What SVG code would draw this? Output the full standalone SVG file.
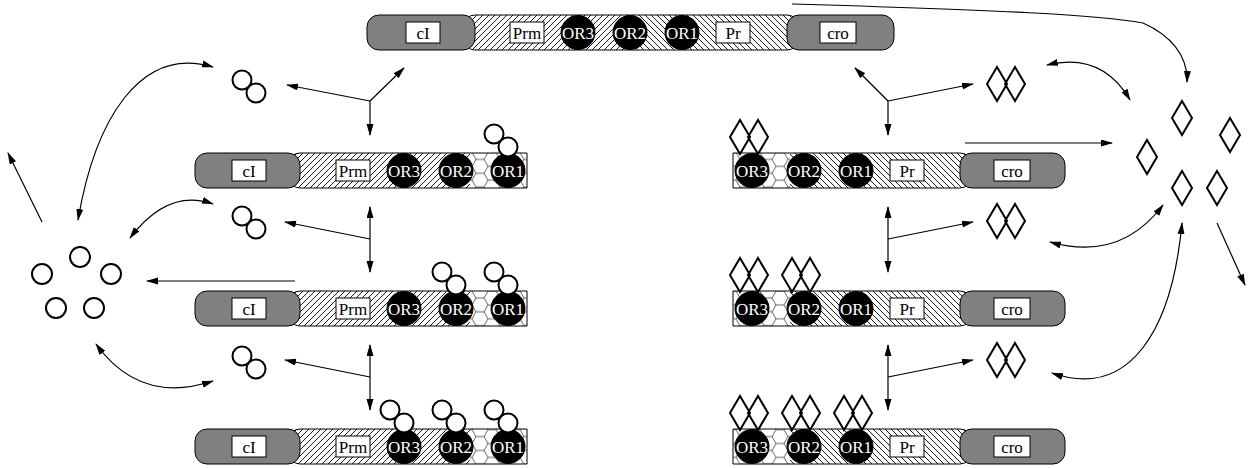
<svg xmlns="http://www.w3.org/2000/svg" width="1257" height="468" viewBox="0 0 1257 468">
<style>
.gray{fill:#808080;stroke:#000;stroke-width:1}
.box{fill:#fff;stroke:#000;stroke-width:1}
.orc{fill:#000;stroke:#000;stroke-width:1}
.out{fill:none;stroke:#000;stroke-width:1}
.t{font-family:"Liberation Serif","Times New Roman",serif;font-size:17px;text-anchor:middle;fill:#000}
.tw{font-family:"Liberation Serif","Times New Roman",serif;font-size:17px;text-anchor:middle;fill:#fff}
.prot{fill:#fff;stroke:#000;stroke-width:2}
.protl{fill:none;stroke:#000;stroke-width:2}
.arr{fill:none;stroke:#000;stroke-width:1.2;marker-end:url(#ah)}
.arr2{fill:none;stroke:#000;stroke-width:1.2;marker-end:url(#ah);marker-start:url(#ah)}
</style>
<defs>
<marker id="ah" markerUnits="userSpaceOnUse" markerWidth="12" markerHeight="8" refX="11" refY="3.5" orient="auto-start-reverse"><path d="M0,0 L12,3.5 L0,7 Z" fill="#000"/></marker>
<pattern id="hatchF" patternUnits="userSpaceOnUse" width="6" height="6"><rect width="6" height="6" fill="#fff"/><path d="M-1,7 L7,-1 M-2,1 L1,-2 M5,7 L7,5" stroke="#000" stroke-width="0.9"/></pattern>
<pattern id="hatchB" patternUnits="userSpaceOnUse" width="6" height="6"><rect width="6" height="6" fill="#fff"/><path d="M-1,-1 L7,7 M5,-1 L7,1 M-1,5 L1,7" stroke="#000" stroke-width="0.9"/></pattern>
<pattern id="honey" patternUnits="userSpaceOnUse" width="24" height="13.86"><rect width="24" height="13.86" fill="#fff"/><path d="M4,6.93 L8,0 L16,0 L20,6.93 L16,13.86 L8,13.86 Z M0,6.93 L4,6.93 M20,6.93 L24,6.93" fill="none" stroke="#000" stroke-width="0.6"/></pattern>
<g id="cIdim"><circle class="prot" cx="0" cy="0" r="9.5"/><circle class="prot" cx="14" cy="13" r="9.5"/></g>
<g id="croDim"><path d="M0,-17 L10,0 L0,17 L-10,0 Z M18,-17 L28,0 L18,17 L8,0 Z" fill="#fff" stroke="none"/><path class="protl" d="M0,-17 L10,0 L0,17 L-10,0 Z M18,-17 L28,0 L18,17 L8,0 Z"/></g>
<path id="dia" class="prot" d="M0,-17 L10,0 L0,17 L-10,0 Z"/>
</defs>

<g id="operon-top">
<path d="M630,15 H475 A12,12 0 0 0 463,27 V38 A12,12 0 0 0 475,50 H630 Z" fill="url(#hatchF)" stroke="#000"/>
<path d="M630,15 H787 A12,12 0 0 1 799,27 V38 A12,12 0 0 1 787,50 H630 Z" fill="url(#hatchB)" stroke="#000"/>
<rect class="gray" x="367" y="15" width="108" height="35" rx="12"/>
<rect class="gray" x="787" y="15" width="107" height="35" rx="12"/>
<rect class="box" x="406" y="22" width="34" height="21"/><text class="t" x="423" y="38.5">cI</text>
<rect class="box" x="510" y="22" width="34" height="21"/><text class="t" x="527" y="38.5">Prm</text>
<circle class="orc" cx="578" cy="32.5" r="17"/><text class="tw" x="578" y="38.5">OR3</text>
<circle class="orc" cx="630" cy="32.5" r="17"/><text class="tw" x="630" y="38.5">OR2</text>
<circle class="orc" cx="682" cy="32.5" r="17"/><text class="tw" x="682" y="38.5">OR1</text>
<rect class="box" x="716" y="22" width="34" height="21"/><text class="t" x="733" y="38.5">Pr</text>
<rect class="box" x="820" y="22" width="36" height="21"/><text class="t" x="838" y="38.5">cro</text>
</g>

<g id="left-row1">
<path d="M527,153 H300 A12,12 0 0 0 288,165 V176 A12,12 0 0 0 300,188 H527 Z" fill="url(#hatchF)"/>
<rect x="470" y="153" width="57" height="35" fill="url(#honey)"/>
<path class="out" d="M527,153 H300 A12,12 0 0 0 288,165 V176 A12,12 0 0 0 300,188 H527 Z"/>
<rect class="gray" x="195" y="153" width="105" height="35" rx="12"/>
<rect class="box" x="232" y="160" width="34" height="21"/><text class="t" x="249" y="176.5">cI</text>
<rect class="box" x="336" y="160" width="34" height="21"/><text class="t" x="353" y="176.5">Prm</text>
<circle class="orc" cx="404" cy="170.5" r="17"/><text class="tw" x="404" y="176.5">OR3</text>
<circle class="orc" cx="456" cy="170.5" r="17"/><text class="tw" x="456" y="176.5">OR2</text>
<circle class="orc" cx="508" cy="170.5" r="17"/><text class="tw" x="508" y="176.5">OR1</text>
<use href="#cIdim" x="494" y="134"/>
</g>

<g id="left-row2">
<path d="M527,291 H300 A12,12 0 0 0 288,303 V314 A12,12 0 0 0 300,326 H527 Z" fill="url(#hatchF)"/>
<rect x="470" y="291" width="57" height="35" fill="url(#honey)"/>
<path class="out" d="M527,291 H300 A12,12 0 0 0 288,303 V314 A12,12 0 0 0 300,326 H527 Z"/>
<rect class="gray" x="195" y="291" width="105" height="35" rx="12"/>
<rect class="box" x="232" y="298" width="34" height="21"/><text class="t" x="249" y="314.5">cI</text>
<rect class="box" x="336" y="298" width="34" height="21"/><text class="t" x="353" y="314.5">Prm</text>
<circle class="orc" cx="404" cy="308.5" r="17"/><text class="tw" x="404" y="314.5">OR3</text>
<circle class="orc" cx="456" cy="308.5" r="17"/><text class="tw" x="456" y="314.5">OR2</text>
<circle class="orc" cx="508" cy="308.5" r="17"/><text class="tw" x="508" y="314.5">OR1</text>
<use href="#cIdim" x="442" y="272"/>
<use href="#cIdim" x="494" y="272"/>
</g>

<g id="left-row3">
<path d="M527,429 H300 A12,12 0 0 0 288,441 V452 A12,12 0 0 0 300,464 H527 Z" fill="url(#hatchF)"/>
<rect x="470" y="429" width="57" height="35" fill="url(#honey)"/>
<path class="out" d="M527,429 H300 A12,12 0 0 0 288,441 V452 A12,12 0 0 0 300,464 H527 Z"/>
<rect class="gray" x="195" y="429" width="105" height="35" rx="12"/>
<rect class="box" x="232" y="436" width="34" height="21"/><text class="t" x="249" y="452.5">cI</text>
<rect class="box" x="336" y="436" width="34" height="21"/><text class="t" x="353" y="452.5">Prm</text>
<circle class="orc" cx="404" cy="446.5" r="17"/><text class="tw" x="404" y="452.5">OR3</text>
<circle class="orc" cx="456" cy="446.5" r="17"/><text class="tw" x="456" y="452.5">OR2</text>
<circle class="orc" cx="508" cy="446.5" r="17"/><text class="tw" x="508" y="452.5">OR1</text>
<use href="#cIdim" x="390" y="410"/>
<use href="#cIdim" x="442" y="410"/>
<use href="#cIdim" x="494" y="410"/>
</g>

<g id="right-row1">
<path d="M733,153 H960 A12,12 0 0 1 972,165 V176 A12,12 0 0 1 960,188 H733 Z" fill="url(#hatchB)"/>
<rect x="733" y="153" width="57" height="35" fill="url(#honey)"/>
<path class="out" d="M733,153 H960 A12,12 0 0 1 972,165 V176 A12,12 0 0 1 960,188 H733 Z"/>
<rect class="gray" x="960" y="153" width="105" height="35" rx="12"/>
<circle class="orc" cx="752" cy="170.5" r="17"/><text class="tw" x="752" y="176.5">OR3</text>
<circle class="orc" cx="804" cy="170.5" r="17"/><text class="tw" x="804" y="176.5">OR2</text>
<circle class="orc" cx="856" cy="170.5" r="17"/><text class="tw" x="856" y="176.5">OR1</text>
<rect class="box" x="890" y="160" width="34" height="21"/><text class="t" x="907" y="176.5">Pr</text>
<rect class="box" x="994" y="160" width="36" height="21"/><text class="t" x="1012" y="176.5">cro</text>
<use href="#croDim" x="740" y="137"/>
</g>

<g id="right-row2">
<path d="M733,291 H960 A12,12 0 0 1 972,303 V314 A12,12 0 0 1 960,326 H733 Z" fill="url(#hatchB)"/>
<rect x="733" y="291" width="57" height="35" fill="url(#honey)"/>
<path class="out" d="M733,291 H960 A12,12 0 0 1 972,303 V314 A12,12 0 0 1 960,326 H733 Z"/>
<rect class="gray" x="960" y="291" width="105" height="35" rx="12"/>
<circle class="orc" cx="752" cy="308.5" r="17"/><text class="tw" x="752" y="314.5">OR3</text>
<circle class="orc" cx="804" cy="308.5" r="17"/><text class="tw" x="804" y="314.5">OR2</text>
<circle class="orc" cx="856" cy="308.5" r="17"/><text class="tw" x="856" y="314.5">OR1</text>
<rect class="box" x="890" y="298" width="34" height="21"/><text class="t" x="907" y="314.5">Pr</text>
<rect class="box" x="994" y="298" width="36" height="21"/><text class="t" x="1012" y="314.5">cro</text>
<use href="#croDim" x="740" y="275"/>
<use href="#croDim" x="792" y="275"/>
</g>

<g id="right-row3">
<path d="M733,429 H960 A12,12 0 0 1 972,441 V452 A12,12 0 0 1 960,464 H733 Z" fill="url(#hatchB)"/>
<rect x="733" y="429" width="57" height="35" fill="url(#honey)"/>
<path class="out" d="M733,429 H960 A12,12 0 0 1 972,441 V452 A12,12 0 0 1 960,464 H733 Z"/>
<rect class="gray" x="960" y="429" width="105" height="35" rx="12"/>
<circle class="orc" cx="752" cy="446.5" r="17"/><text class="tw" x="752" y="452.5">OR3</text>
<circle class="orc" cx="804" cy="446.5" r="17"/><text class="tw" x="804" y="452.5">OR2</text>
<circle class="orc" cx="856" cy="446.5" r="17"/><text class="tw" x="856" y="452.5">OR1</text>
<rect class="box" x="890" y="436" width="34" height="21"/><text class="t" x="907" y="452.5">Pr</text>
<rect class="box" x="994" y="436" width="36" height="21"/><text class="t" x="1012" y="452.5">cro</text>
<use href="#croDim" x="740" y="413"/>
<use href="#croDim" x="792" y="413"/>
<use href="#croDim" x="844" y="413"/>
</g>

<g id="cI-dimers">
<use href="#cIdim" x="242" y="80"/>
<use href="#cIdim" x="242" y="216"/>
<use href="#cIdim" x="242" y="356"/>
</g>

<g id="cI-monomers">
<circle class="prot" cx="80" cy="257" r="10"/>
<circle class="prot" cx="42" cy="274" r="10"/>
<circle class="prot" cx="111" cy="274" r="10"/>
<circle class="prot" cx="56" cy="308" r="10"/>
<circle class="prot" cx="94" cy="308" r="10"/>
</g>

<g id="cro-dimers">
<use href="#croDim" x="997" y="84"/>
<use href="#croDim" x="997" y="221"/>
<use href="#croDim" x="997" y="360"/>
</g>

<g id="cro-monomers">
<use href="#dia" x="1182" y="118"/>
<use href="#dia" x="1230" y="135"/>
<use href="#dia" x="1147" y="157"/>
<use href="#dia" x="1182" y="188"/>
<use href="#dia" x="1217" y="188"/>
</g>

<g id="connectors">
<path class="arr" d="M370,101 L404,68"/>
<path class="arr" d="M370,101 L370,135"/>
<path class="arr" d="M370,101 L287,85"/>
<path class="arr" d="M888,101 L855,68"/>
<path class="arr" d="M888,101 L888,135"/>
<path class="arr" d="M888,101 L973,84"/>
<path class="arr2" d="M370,207 L370,272"/>
<path class="arr" d="M370,239 L285,222"/>
<path class="arr2" d="M888,207 L888,272"/>
<path class="arr" d="M888,239 L973,222"/>
<path class="arr2" d="M370,345 L370,410"/>
<path class="arr" d="M370,377 L285,360"/>
<path class="arr2" d="M888,345 L888,410"/>
<path class="arr" d="M888,377 L973,360"/>
<path class="arr" d="M295,281 L147,281"/>
<path class="arr" d="M965,143 L1112,143"/>
<path class="arr" d="M42,222 L8,153"/>
<path class="arr" d="M1217,223 L1245,285"/>
<path class="arr2" d="M78,220 C95,120 140,45 213,67"/>
<path class="arr2" d="M130,238 Q168,188 213,204"/>
<path class="arr2" d="M96,344 Q140,405 213,381"/>
<path class="arr" d="M792,4 C1000,10 1100,15 1143,23 C1170,35 1188,55 1187,82"/>
<path class="arr2" d="M1047,65 Q1102,52 1130,100"/>
<path class="arr2" d="M1050,242 Q1120,262 1163,205"/>
<path class="arr2" d="M1052,373 C1130,400 1172,330 1182,223"/>
</g>
</svg>
